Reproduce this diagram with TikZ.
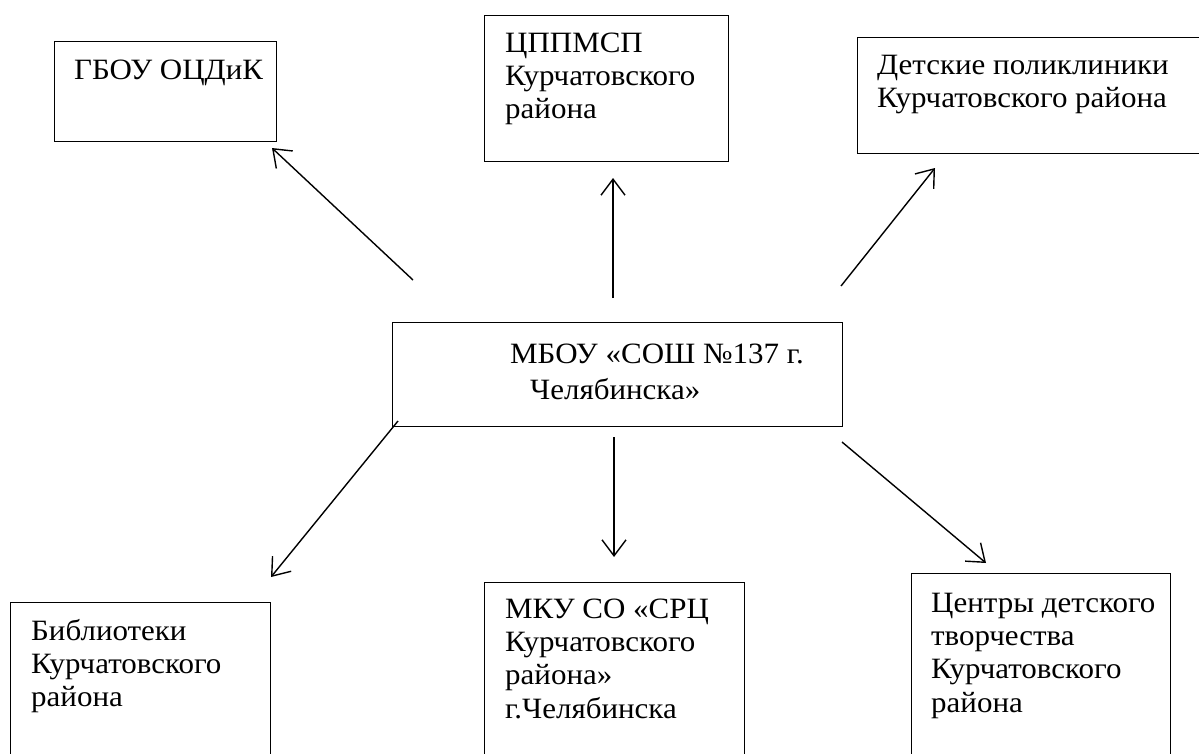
\documentclass[tikz,border=0pt]{standalone}
\usepackage{fontspec}
\setmainfont{Liberation Serif}[FakeStretch=1.05]
\usetikzlibrary{arrows.meta}
\begin{document}
\begin{tikzpicture}[x=1pt,y=-1pt,
  box/.style={draw, line width=1.2pt, inner sep=0pt, anchor=north west},
  txt/.style={font=\fontsize{29.5}{33.3}\selectfont, align=left, anchor=base west, inner sep=0pt},
  arr/.style={line width=1.4pt, -{Straight Barb[length=16pt,width=24pt,line width=1.4pt]}}]
\useasboundingbox (0,0) rectangle (1199,753);
\clip (0,0) rectangle (1199,753);
% boxes
\node[box, minimum width=222pt, minimum height=100pt] (b1) at (54,41) {};
\node[box, minimum width=244pt, minimum height=146pt] (b2) at (484,15) {};
\node[box, minimum width=360pt, minimum height=116pt] (b3) at (857,37) {};
\node[box, minimum width=450pt, minimum height=104pt] (m) at (392,322) {};
\node[box, minimum width=260pt, minimum height=200pt] (b5) at (10,602) {};
\node[box, minimum width=260pt, minimum height=200pt] (b6) at (484,582) {};
\node[box, minimum width=259pt, minimum height=200pt] (b7) at (911,573) {};
% texts (anchored at the baseline of their last line)
\node[txt] (t1) at (74,79) {ГБОУ ОЦДиК};
\node[txt] (t2) at (505,118.6) {ЦППМСП\\Курчатовского\\района};
\node[txt] (t3) at (877,107.5) {Детские поликлиники\\Курчатовского района};
\node[txt] (tm) at (510,399) {МБОУ «СОШ №137 г.\\[2.7pt]\hspace*{20pt}Челябинска»};
\node[txt] (t5) at (31,706.6) {Библиотеки\\Курчатовского\\района};
\node[txt] (t6) at (505,718) {МКУ СО «СРЦ\\Курчатовского\\района»\\г.Челябинска};
\node[txt] (t7) at (931,712) {Центры детского\\творчества\\Курчатовского\\района};
% connector ends
\coordinate (s1) at (413,280); \coordinate (e1) at (272,148);
\coordinate (s2) at (613,298); \coordinate (e2) at (613,178);
\coordinate (s3) at (841,286); \coordinate (e3) at (935,168);
\coordinate (s5) at (398,421); \coordinate (e5) at (271,577);
\coordinate (s6) at (614,437); \coordinate (e6) at (614,557);
\coordinate (s7) at (842,442); \coordinate (e7) at (986,563);
\draw[arr] (s1) -- (e1);
\draw[arr] (s2) -- (e2);
\draw[arr] (s3) -- (e3);
\draw[arr] (s5) -- (e5);
\draw[arr] (s6) -- (e6);
\draw[arr] (s7) -- (e7);
\end{tikzpicture}
\end{document}
